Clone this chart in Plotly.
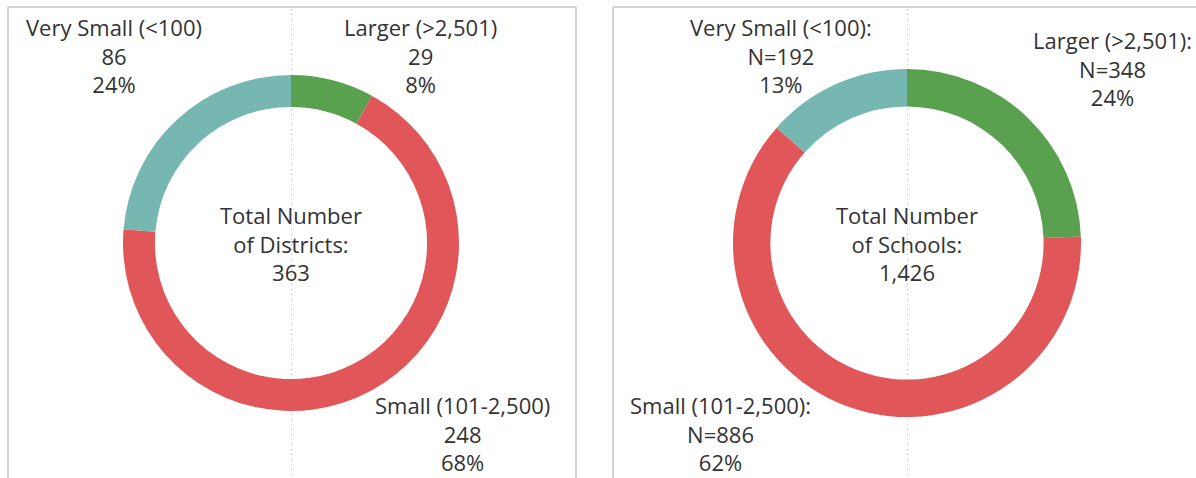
import plotly.graph_objects as go

W, H = 1196, 478

categories = ["Larger (>2,501)", "Small (101-2,500)", "Very Small (<100)"]
district_counts = [29, 248, 86]
district_pcts = ["8%", "68%", "24%"]
school_counts = [348, 886, 192]
school_pcts = ["24%", "62%", "13%"]
colors = ["#59A14F", "#E15759", "#76B7B2"]
district_total = "363"
school_total = "1,426"

TXT = "#333333"
FONT = "Open Sans"
FS = 22


def px_x(v):
    return v / W


def px_y(v):
    return 1 - v / H


fig = go.Figure()

# Left donut: center (291, 243), radius 168
fig.add_trace(go.Pie(
    labels=categories, values=district_counts, sort=False, direction="clockwise",
    rotation=0, hole=0.81, marker=dict(colors=colors, line=dict(width=0)),
    textinfo="none", hoverinfo="label+value", showlegend=False,
    domain=dict(x=[px_x(291 - 168), px_x(291 + 168)], y=[px_y(243 + 168), px_y(243 - 168)]),
))
# Right donut: center (907, 243), radius 174
fig.add_trace(go.Pie(
    labels=categories, values=school_counts, sort=False, direction="clockwise",
    rotation=0, hole=0.785, marker=dict(colors=colors, line=dict(width=0)),
    textinfo="none", hoverinfo="label+value", showlegend=False,
    domain=dict(x=[px_x(907 - 174), px_x(907 + 174)], y=[px_y(243 + 174), px_y(243 - 174)]),
))

BORDER = "#d3d3d3"
DOT = dict(color="#bdbdbd", width=1, dash="1px,4px")
shapes = [
    # panel borders
    dict(type="line", x0=px_x(8), x1=px_x(8), y0=px_y(7), y1=0, line=dict(color=BORDER, width=2)),
    dict(type="line", x0=px_x(576), x1=px_x(576), y0=px_y(7), y1=0, line=dict(color=BORDER, width=2)),
    dict(type="line", x0=px_x(8), x1=px_x(576), y0=px_y(7), y1=px_y(7), line=dict(color=BORDER, width=2)),
    dict(type="line", x0=px_x(613), x1=px_x(613), y0=px_y(7), y1=0, line=dict(color=BORDER, width=2)),
    dict(type="line", x0=px_x(613), x1=1, y0=px_y(7), y1=px_y(7), line=dict(color=BORDER, width=2)),
    # dotted center lines
    dict(type="line", x0=px_x(291.5), x1=px_x(291.5), y0=px_y(9), y1=0, layer="below", line=DOT),
    dict(type="line", x0=px_x(907.5), x1=px_x(907.5), y0=px_y(9), y1=0, layer="below", line=DOT),
]

annotations = []


def lab(x, y, lines):
    annotations.append(dict(
        x=px_x(x), y=px_y(y), xref="paper", yref="paper", showarrow=False,
        text="<br>".join(lines), align="center", xanchor="center", yanchor="middle",
        font=dict(family=FONT, size=FS, color=TXT),
    ))


# left panel
lab(114, 55, [categories[2], str(district_counts[2]), district_pcts[2]])
lab(420, 55, [categories[0], str(district_counts[0]), district_pcts[0]])
lab(462, 433, [categories[1], str(district_counts[1]), district_pcts[1]])
lab(291, 243, ["Total Number", "of Districts:", district_total])
# right panel
lab(781, 55, [categories[2] + ":", "N=" + str(school_counts[2]), school_pcts[2]])
lab(1112, 68, [categories[0] + ":", "N=" + str(school_counts[0]), school_pcts[0]])
lab(720, 433, [categories[1] + ":", "N=" + str(school_counts[1]), school_pcts[1]])
lab(907, 243, ["Total Number", "of Schools:", school_total])

fig.update_layout(
    width=W, height=H, margin=dict(l=0, r=0, t=0, b=0),
    paper_bgcolor="white", plot_bgcolor="white",
    shapes=shapes, annotations=annotations,
)

fig.write_html("out.html", config={"displayModeBar": False},
               post_script="document.body.style.margin='0';")
